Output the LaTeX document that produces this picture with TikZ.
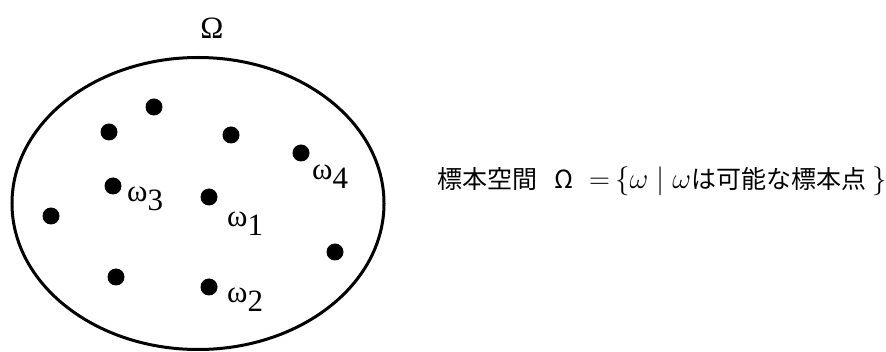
\documentclass[tikz,border=0pt]{standalone}
\usepackage{fix-cm}
\usepackage[no-math]{fontspec}
\newfontfamily\tms{Liberation Serif}
\newfontfamily\jp{Noto Sans CJK JP}
\newcommand\mymath[1]{{\fontsize{29}{29}\selectfont$#1$}}
\begin{document}
\begin{tikzpicture}[x=1pt,y=-1pt,
  dot/.style={circle,fill=black,inner sep=0pt,minimum size=17pt},
  wlab/.style={anchor=base west,inner sep=0pt,font=\tms\fontsize{31}{31}\selectfont},
  omlab/.style={anchor=base,inner sep=0pt,font=\tms\fontsize{31}{31}\selectfont}]
\useasboundingbox (0,0) rectangle (886,352);
\draw[line width=3pt] (198,203.5) ellipse [x radius=186, y radius=146];
\node[omlab] (om) at (212,39) {Ω};
\node[dot] (p1) at (154,107) {};
\node[dot] (p2) at (109,132) {};
\node[dot] (p3) at (231,135) {};
\node[dot] (p4) at (301,153) {};
\node[dot] (p5) at (113,186) {};
\node[dot] (p6) at (209,197) {};
\node[dot] (p7) at (51,216) {};
\node[dot] (p8) at (335,252) {};
\node[dot] (p9) at (116,277) {};
\node[dot] (p10) at (209,287) {};
\node[wlab] (l4) at (312,180) {ω\raisebox{-9pt}{4}};
\node[wlab] (l3) at (127,202) {ω\raisebox{-9pt}{3}};
\node[wlab] (l1) at (227,227) {ω\raisebox{-9pt}{1}};
\node[wlab] (l2) at (227,303) {ω\raisebox{-9pt}{2}};
\node[inner sep=0pt,anchor=base west,font=\jp\fontsize{25}{25}\selectfont] (txt) at (437,189)
  {標本空間\hspace{17pt}Ω\hspace{16pt}\mymath{=}\hspace{5pt}\mymath{\{\omega\mid\omega}は可能な標本点\hspace{6pt}\mymath{\}}};
\end{tikzpicture}
\end{document}
